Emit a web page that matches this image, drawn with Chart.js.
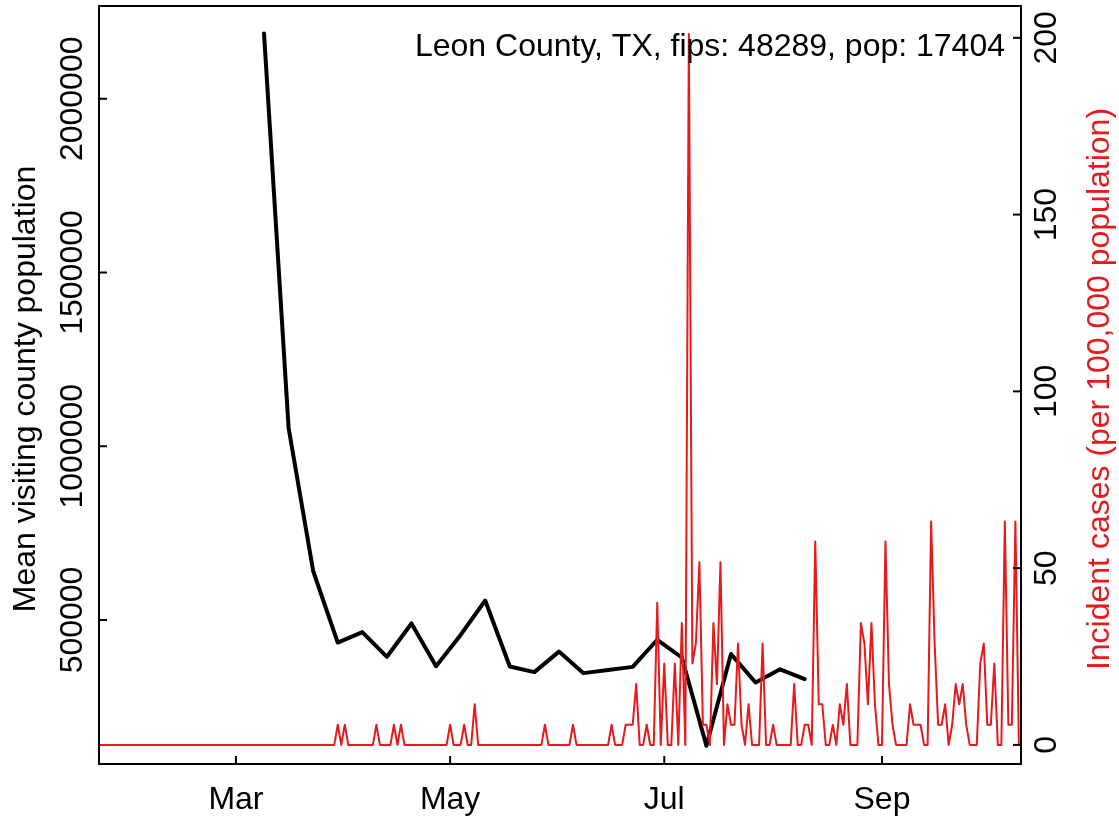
<!DOCTYPE html>
<html>
<head>
<meta charset="utf-8">
<script src="https://cdn.jsdelivr.net/npm/chart.js@4.4.1/dist/chart.umd.min.js"></script>
<style>
  html, body { margin: 0; padding: 0; background: #fff; }
</style>
</head>
<body>
<canvas id="chart" width="1119" height="822"></canvas>
<script>
// x values are day numbers counted from Jan 1 2020 (Jan 1 = 0)
const monthTicks = [60, 121, 182, 244];
const monthLabels = ['Mar', 'May', 'Jul', 'Sep'];

// weekly mean visiting population (left axis)
const visitDays = [68, 75, 82, 89, 96, 103, 110, 117, 124, 131, 138, 145,
                   152, 159, 166, 173, 180, 187, 194, 201, 208, 215, 222];
const visitValues = [2188000, 1053000, 641000, 435000, 465000, 394000, 490000, 367000,
                     457000, 556000, 366000, 350000, 409000, 347000, 356000, 365000,
                     443000, 392000, 138000, 402000, 320000, 358000, 330000];

// daily incident cases per 100,000, first value is Jan 22 (day 21)
const caseFirstDay = 21;
const caseValues = [
  0, 0, 0, 0, 0, 0, 0, 0, 0, 0,                 // 21-30
  0, 0, 0, 0, 0, 0, 0, 0, 0, 0,                 // 31-40
  0, 0, 0, 0, 0, 0, 0, 0, 0, 0,                 // 41-50
  0, 0, 0, 0, 0, 0, 0, 0, 0, 0,                 // 51-60
  0, 0, 0, 0, 0, 0, 0, 0, 0, 0,                 // 61-70
  0, 0, 0, 0, 0, 0, 0, 0, 0, 0,                 // 71-80
  0, 0, 0, 0, 0, 0, 0, 0, 5.7, 0,               // 81-90
  5.7, 0, 0, 0, 0, 0, 0, 0, 0, 5.7,             // 91-100
  0, 0, 0, 0, 5.7, 0, 5.7, 0, 0, 0,             // 101-110
  0, 0, 0, 0, 0, 0, 0, 0, 0, 0,                 // 111-120
  5.7, 0, 0, 0, 5.7, 0, 0, 11.5, 0, 0,          // 121-130
  0, 0, 0, 0, 0, 0, 0, 0, 0, 0,                 // 131-140
  0, 0, 0, 0, 0, 0, 0, 5.7, 0, 0,               // 141-150
  0, 0, 0, 0, 0, 5.7, 0, 0, 0, 0,               // 151-160
  0, 0, 0, 0, 0, 0, 5.7, 0, 0, 0,               // 161-170
  5.7, 5.7, 5.7, 17.2, 0, 0, 5.7, 0, 0, 40.2,   // 171-180
  0, 23.0, 0, 0, 23.0, 0, 34.5, 0, 201.1, 23.0, // 181-190
  28.7, 51.7, 5.7, 5.7, 0, 34.5, 17.2, 51.7, 0, 11.5, // 191-200
  5.7, 5.7, 28.7, 5.7, 0, 11.5, 0, 0, 0, 28.7,  // 201-210
  0, 0, 5.7, 0, 0, 0, 0, 0, 17.2, 0,            // 211-220
  0, 5.7, 5.7, 0, 57.5, 11.5, 11.5, 0, 0, 5.7,  // 221-230
  0, 11.5, 5.7, 17.2, 0, 0, 0, 34.5, 28.7, 11.5, // 231-240
  34.5, 11.5, 0, 0, 57.5, 17.2, 5.7, 0, 0, 0,   // 241-250
  0, 11.5, 5.7, 5.7, 5.7, 0, 0, 63.2, 28.7, 5.7, // 251-260
  5.7, 11.5, 0, 5.7, 17.2, 11.5, 17.2, 5.7, 0, 0, // 261-270
  0, 23.0, 28.7, 5.7, 5.7, 23.0, 0, 0, 63.2, 5.7, // 271-280
  5.7, 63.2, 0                                  // 281-283
];

const leftTicks = [500000, 1000000, 1500000, 2000000];
const rightTicks = [0, 50, 100, 150, 200];

const annotation = 'Leon County, TX, fips: 48289, pop: 17404';
const leftTitle = 'Mean visiting county population';
const rightTitle = 'Incident cases (per 100,000 population)';

const RED = '#E41A1C';
const FONT = '32px "Liberation Sans", Arial, sans-serif';
const TICK = 8;

function vText(ctx, s, x, y) {
  ctx.save();
  ctx.translate(x, y);
  ctx.rotate(-Math.PI / 2);
  ctx.textAlign = 'center';
  ctx.textBaseline = 'middle';
  ctx.fillText(s, 0, 0);
  ctx.restore();
}

function seg(ctx, x1, y1, x2, y2) {
  ctx.beginPath();
  ctx.moveTo(x1, y1);
  ctx.lineTo(x2, y2);
  ctx.stroke();
}

// box, ticks and labels drawn in the look of base R graphics
const baseAxes = {
  id: 'baseAxes',
  afterDatasetsDraw(chart) {
    const { ctx, chartArea: a, scales } = chart;
    ctx.save();
    ctx.strokeStyle = '#000';
    ctx.lineWidth = 2;
    ctx.strokeRect(a.left, a.top, a.right - a.left, a.bottom - a.top);
    ctx.font = FONT;
    ctx.fillStyle = '#000';

    monthTicks.forEach((d, i) => {
      const x = scales.x.getPixelForValue(d);
      seg(ctx, x, a.bottom, x, a.bottom - TICK);
      ctx.textAlign = 'center';
      ctx.textBaseline = 'middle';
      ctx.fillText(monthLabels[i], x, 800);
    });

    leftTicks.forEach(v => {
      const y = scales.y.getPixelForValue(v);
      seg(ctx, a.left, y, a.left + TICK, y);
      vText(ctx, String(v), 73, y);
    });

    rightTicks.forEach(v => {
      const y = scales.y2.getPixelForValue(v);
      seg(ctx, a.right, y, a.right - TICK, y);
      vText(ctx, String(v), 1047, y);
    });

    // axis titles sit a little below the plot centre
    const midY = (a.top + a.bottom) / 2 + 4;
    vText(ctx, leftTitle, 26, midY);
    ctx.fillStyle = RED;
    vText(ctx, rightTitle, 1100, midY);

    ctx.fillStyle = '#000';
    ctx.textAlign = 'right';
    ctx.textBaseline = 'middle';
    ctx.fillText(annotation, 1005, 47);
    ctx.restore();
  }
};

const hiddenAxis = {
  ticks: { display: false },
  grid: { display: false },
  border: { display: false }
};

new Chart(document.getElementById('chart'), {
  type: 'line',
  data: {
    datasets: [
      {
        label: 'cases',
        data: caseValues.map((v, i) => ({ x: caseFirstDay + i, y: v })),
        yAxisID: 'y2',
        borderColor: RED,
        borderWidth: 2,
        pointRadius: 0,
        tension: 0,
        borderJoinStyle: 'round'
      },
      {
        label: 'visits',
        data: visitDays.map((d, i) => ({ x: d, y: visitValues[i] })),
        yAxisID: 'y',
        borderColor: '#000',
        borderWidth: 4,
        pointRadius: 0,
        tension: 0,
        borderJoinStyle: 'round',
        borderCapStyle: 'round'
      }
    ]
  },
  options: {
    responsive: false,
    animation: false,
    layout: { padding: { top: 6 } },
    plugins: { legend: { display: false }, tooltip: { enabled: false } },
    scales: {
      x: {
        type: 'linear', position: 'bottom', min: 21, max: 283.6,
        ...hiddenAxis,
        afterFit: s => { s.height = 58; }
      },
      y: {
        type: 'linear', position: 'left', min: 85500, max: 2267000,
        ...hiddenAxis,
        afterFit: s => { s.width = 99; }
      },
      y2: {
        type: 'linear', position: 'right', min: -5.4, max: 209,
        ...hiddenAxis,
        afterFit: s => { s.width = 98; }
      }
    }
  },
  plugins: [baseAxes]
});
</script>
</body>
</html>
